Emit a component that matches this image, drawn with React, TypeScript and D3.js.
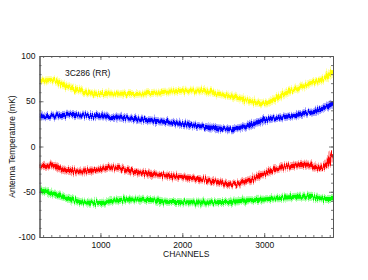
import * as d3 from 'd3';
import React, { useRef, useEffect } from 'react';

const W = 368;
const H = 280;
const margin = { top: 56, right: 35, bottom: 43, left: 39.5 };

const channels = [256, 400, 600, 800, 1000, 1150, 1400, 1600, 1800, 2000, 2200, 2400, 2600, 2800, 3000, 3200, 3400, 3550, 3650, 3750, 3840];
const yellowVals = [72, 73.5, 66, 60, 58, 58.5, 58, 59, 60.5, 61.5, 62, 59, 55.5, 51, 47.5, 56, 64, 69, 72, 76, 84];
const blueVals = [33, 34, 35, 34, 33.5, 32.5, 30.5, 29, 27, 25, 22.5, 20.5, 19, 23, 29, 32, 35, 38, 40, 43, 48];
const redVals = [-22, -21, -27, -27.5, -25, -23, -28, -30, -32, -34, -36, -38.5, -42, -38, -30, -24, -21, -20, -24, -21, -6];
const greenVals = [-48, -51.5, -57, -62, -62.5, -60, -58.5, -59, -61, -61.5, -62, -61.5, -61, -59.5, -58.5, -57, -55.5, -55.5, -57, -58, -58];

const xTicks = [1000, 2000, 3000];
const yTicks = [-100, -50, 0, 50, 100];
const xMinor = d3.range(300, 3900, 100);
const yMinor = d3.range(-100, 101, 10);

const series = [
  { name: 'yellow', color: '#ffff00', values: yellowVals },
  { name: 'blue', color: '#0000ff', values: blueVals },
  { name: 'red', color: '#ff0000', values: redVals },
  { name: 'green', color: '#00ff00', values: greenVals },
];

const font = '"Liberation Sans", Arial, sans-serif';

const x = d3.scaleLinear().domain([256, 3840]).range([margin.left, W - margin.right]);
const y = d3.scaleLinear().domain([-100, 100]).range([H - margin.bottom, margin.top]);

export default function App() {
  const ref = useRef<SVGSVGElement>(null);

  useEffect(() => {
    const svg = d3.select(ref.current);
    svg.selectAll('.axes').remove();
    const g = svg.append('g').attr('class', 'axes');
    const fmt = (d: any) => String(d);
    const x0 = margin.left;
    const x1 = W - margin.right;
    const y0 = H - margin.bottom;
    const y1 = margin.top;

    // major axes, ticks point inward like IDL plots
    g.append('g').attr('transform', `translate(0,${y0})`)
      .call(d3.axisBottom(x).tickValues(xTicks).tickSizeInner(-4).tickSizeOuter(0).tickPadding(5).tickFormat(fmt));
    g.append('g').attr('transform', `translate(0,${y1})`)
      .call(d3.axisTop(x).tickValues(xTicks).tickSizeInner(-4).tickSizeOuter(0).tickFormat(() => ''));
    g.append('g').attr('transform', `translate(${x0},0)`)
      .call(d3.axisLeft(y).tickValues(yTicks).tickSizeInner(-4).tickSizeOuter(0).tickPadding(4).tickFormat(fmt));
    g.append('g').attr('transform', `translate(${x1},0)`)
      .call(d3.axisRight(y).tickValues(yTicks).tickSizeInner(-4).tickSizeOuter(0).tickFormat(() => ''));

    // minor ticks
    g.append('g').attr('transform', `translate(0,${y0})`)
      .call(d3.axisBottom(x).tickValues(xMinor).tickSizeInner(-2).tickSizeOuter(0).tickFormat(() => ''));
    g.append('g').attr('transform', `translate(0,${y1})`)
      .call(d3.axisTop(x).tickValues(xMinor).tickSizeInner(-2).tickSizeOuter(0).tickFormat(() => ''));
    g.append('g').attr('transform', `translate(${x0},0)`)
      .call(d3.axisLeft(y).tickValues(yMinor).tickSizeInner(-2).tickSizeOuter(0).tickFormat(() => ''));
    g.append('g').attr('transform', `translate(${x1},0)`)
      .call(d3.axisRight(y).tickValues(yMinor).tickSizeInner(-2).tickSizeOuter(0).tickFormat(() => ''));

    g.selectAll('path.domain').attr('stroke', '#555').attr('stroke-width', 1);
    g.selectAll('.tick line').attr('stroke', '#555').attr('stroke-width', 0.8);
    g.selectAll('.tick text')
      .attr('font-family', font)
      .attr('font-size', 8.5)
      .attr('fill', '#111');
  }, []);

  const line = (vals: number[]) =>
    d3.line<number>()
      .x((_, i) => x(channels[i]))
      .y((d) => y(d))
      .curve(d3.curveMonotoneX)(vals) || '';

  return (
    <svg ref={ref} width={W} height={H} style={{ display: 'block', position: 'absolute', left: 0, top: 0 }}>
      <defs>
        <clipPath id="plotClip">
          <rect x={margin.left} y={margin.top} width={W - margin.left - margin.right} height={H - margin.top - margin.bottom} />
        </clipPath>
        <filter id="jitter" filterUnits="userSpaceOnUse" x={0} y={0} width={W} height={H}>
          <feTurbulence type="fractalNoise" baseFrequency="0.9 0.04" numOctaves={2} seed={3} result="noise" />
          <feDisplacementMap in="SourceGraphic" in2="noise" scale={7} xChannelSelector="G" yChannelSelector="R" />
        </filter>
      </defs>
      <g clipPath="url(#plotClip)">
        {series.map((s) => (
          <g key={s.name} filter="url(#jitter)">
            <path d={line(s.values)} fill="none" stroke={s.color} strokeWidth={8} strokeOpacity={0.35} />
            <path d={line(s.values)} fill="none" stroke={s.color} strokeWidth={4} />
          </g>
        ))}
      </g>
      <text x={65} y={76} fontFamily={font} fontSize={8.5} fill="#111">3C286 (RR)</text>
      <text x={(margin.left + W - margin.right) / 2} y={257} textAnchor="middle"
        fontFamily={font} fontSize={8.5} fill="#111">CHANNELS</text>
      <text transform={`translate(15,${(margin.top + H - margin.bottom) / 2}) rotate(-90)`} textAnchor="middle"
        fontFamily={font} fontSize={8.5} fill="#111">Antenna Temperature (mK)</text>
    </svg>
  );
}
